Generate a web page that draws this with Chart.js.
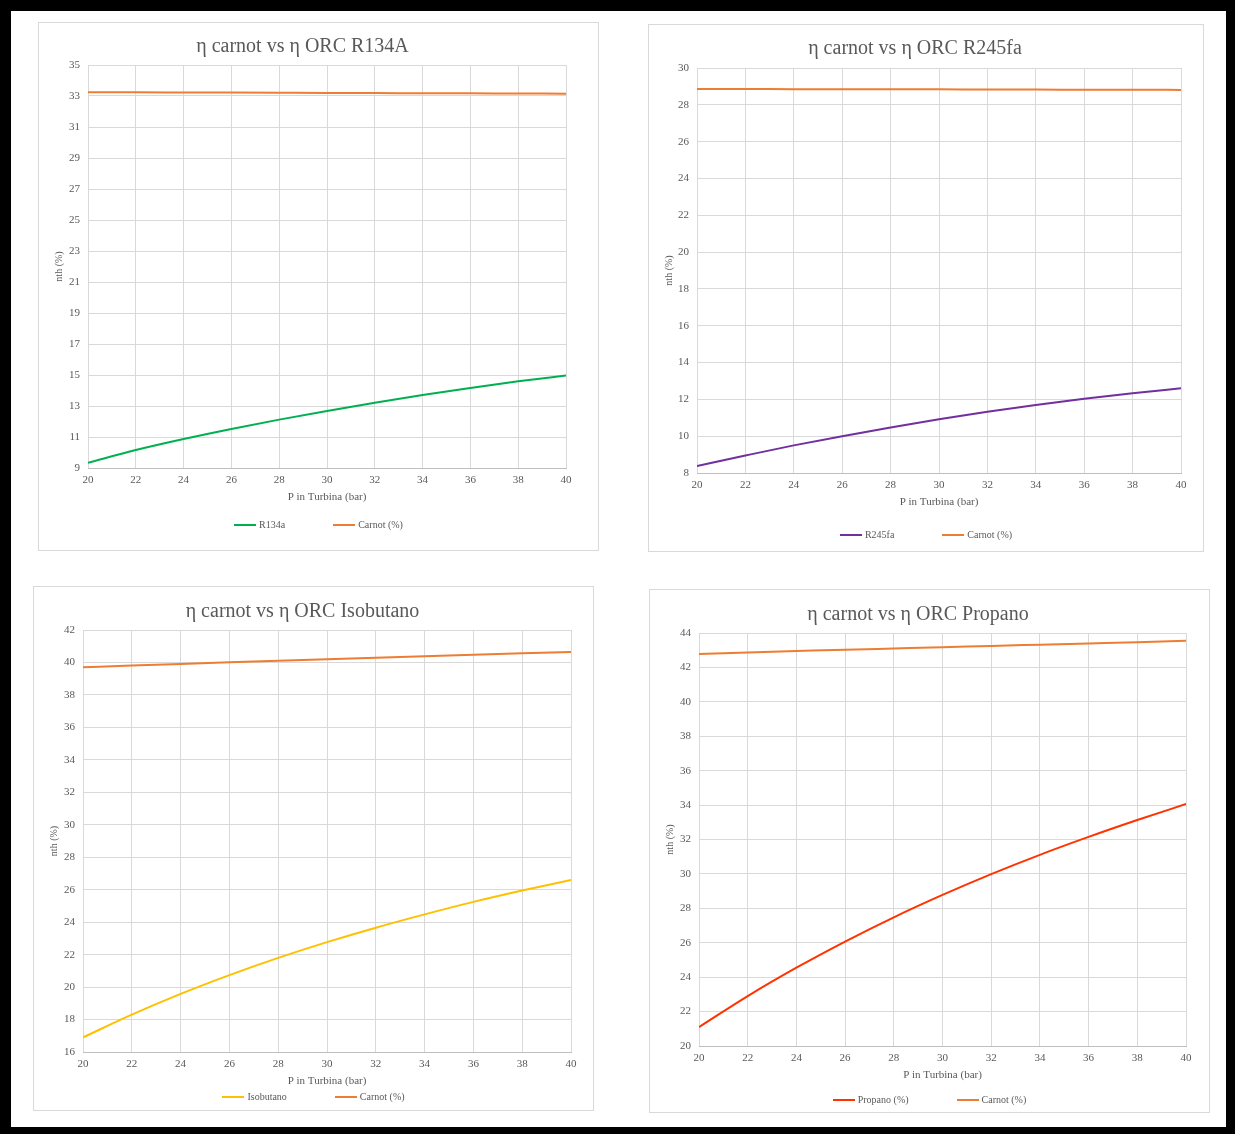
<!DOCTYPE html>
<html>
<head>
<meta charset="utf-8">
<title>η carnot vs η ORC</title>
<script src="https://cdn.jsdelivr.net/npm/chart.js@4.4.1/dist/chart.umd.min.js"></script>
<style>
  body { margin: 0; width: 1235px; height: 1134px; background: #000; position: relative; overflow: hidden; }
  #sheet { position: absolute; left: 11px; top: 11px; width: 1215px; height: 1116px; background: #fff; }
  .box { position: absolute; border: 1px solid #d9d9d9; background: #fff; }
  .box canvas { display: block; }
  .legend { position: absolute; left: 0; right: 0; height: 12px; line-height: 12px; display: flex; justify-content: center; gap: 48px;
            font: 10px "Liberation Serif", serif; color: #595959; white-space: nowrap; }
  .legend .key { display: inline-block; width: 22px; height: 2px; margin-right: 3px; vertical-align: middle; position: relative; top: -1px; }
</style>
</head>
<body>
<div id="sheet"></div>

<div class="box" style="left:38px; top:22px;">
  <canvas id="c1" width="559" height="527"></canvas>
  <div class="legend" style="top:496px;"><span><i class="key" style="background:#00b050"></i>R134a</span><span><i class="key" style="background:#ed7d31"></i>Carnot (%)</span></div>
</div>
<div class="box" style="left:648px; top:24px;">
  <canvas id="c2" width="554" height="526"></canvas>
  <div class="legend" style="top:504px;"><span><i class="key" style="background:#7030a0"></i>R245fa</span><span><i class="key" style="background:#ed7d31"></i>Carnot (%)</span></div>
</div>
<div class="box" style="left:33px; top:586px;">
  <canvas id="c3" width="559" height="523"></canvas>
  <div class="legend" style="top:504px;"><span><i class="key" style="background:#ffc000"></i>Isobutano</span><span><i class="key" style="background:#ed7d31"></i>Carnot (%)</span></div>
</div>
<div class="box" style="left:649px; top:589px;">
  <canvas id="c4" width="559" height="522"></canvas>
  <div class="legend" style="top:504px;"><span><i class="key" style="background:#ff3300"></i>Propano (%)</span><span><i class="key" style="background:#ed7d31"></i>Carnot (%)</span></div>
</div>

<script>
// turbine inlet pressure, bar
const pressure = [20, 22, 24, 26, 28, 30, 32, 34, 36, 38, 40];

// cycle efficiencies, %
const r134a     = [9.34, 10.16, 10.87, 11.52, 12.12, 12.68, 13.21, 13.71, 14.16, 14.59, 14.97];
const r245fa    = [8.38, 8.95, 9.50, 10.00, 10.47, 10.92, 11.33, 11.70, 12.03, 12.33, 12.60];
const isobutano = [16.90, 18.30, 19.58, 20.74, 21.80, 22.77, 23.66, 24.48, 25.25, 25.95, 26.60];
const propano   = [21.10, 22.90, 24.55, 26.07, 27.48, 28.78, 29.99, 31.11, 32.15, 33.13, 34.06];

// carnot efficiency for each fluid, %
const carnotR134a     = [33.25, 33.24, 33.23, 33.22, 33.21, 33.20, 33.19, 33.18, 33.17, 33.16, 33.15];
const carnotR245fa    = [28.86, 28.86, 28.85, 28.85, 28.84, 28.84, 28.83, 28.83, 28.82, 28.82, 28.81];
const carnotIsobutano = [39.70, 39.81, 39.91, 40.01, 40.11, 40.20, 40.29, 40.38, 40.47, 40.56, 40.65];
const carnotPropano   = [42.78, 42.87, 42.95, 43.03, 43.10, 43.17, 43.25, 43.32, 43.39, 43.46, 43.55];

// y axis ranges
const yRange1 = [9, 35];
const yRange2 = [8, 30];
const yRange3 = [16, 42];
const yRange4 = [20, 44];

const grey = '#595959';
const serif = '"Liberation Serif", "Times New Roman", serif';

function points(values) {
  return pressure.map((p, i) => ({ x: p, y: values[i] }));
}

function line(label, values, color) {
  return {
    label: label,
    data: points(values),
    borderColor: color,
    backgroundColor: color,
    borderWidth: 2,
    pointRadius: 0,
    cubicInterpolationMode: 'monotone',
  };
}

function makeChart(id, title, fluid, fluidValues, fluidColor, carnot, yRange, box) {
  new Chart(document.getElementById(id), {
    type: 'line',
    data: {
      datasets: [line(fluid, fluidValues, fluidColor), line('Carnot (%)', carnot, '#ed7d31')],
    },
    options: {
      responsive: false,
      animation: false,
      layout: { padding: { left: 0, top: 0, right: box.right, bottom: box.bottom } },
      plugins: {
        legend: { display: false },
        tooltip: { enabled: false },
        title: {
          display: true,
          text: title,
          color: grey,
          font: { family: serif, size: 20, weight: 'normal' },
          padding: { top: box.titleTop, bottom: box.titleBottom },
        },
      },
      scales: {
        x: {
          type: 'linear',
          min: 20,
          max: 40,
          ticks: { stepSize: 2, padding: 6, color: grey, font: { family: serif, size: 11 } },
          grid: { color: '#d9d9d9', drawTicks: false },
          border: { color: '#bfbfbf' },
          title: {
            display: true,
            text: 'P in Turbina (bar)',
            color: grey,
            font: { family: serif, size: 11 },
            padding: { top: 0, bottom: 2 },
          },
          afterFit: (s) => { s.height = 38; },
        },
        y: {
          min: yRange[0],
          max: yRange[1],
          ticks: { stepSize: 2, padding: 8, color: grey, font: { family: serif, size: 11 } },
          grid: { color: '#d9d9d9', drawTicks: false },
          border: { display: false },
          title: {
            display: true,
            text: 'nth (%)',
            color: grey,
            font: { family: serif, size: 10 },
            padding: { top: 14, bottom: 0 },
          },
          afterFit: (s) => { s.width = box.left; },
        },
      },
    },
  });
}

makeChart('c1', 'η carnot vs η ORC R134A', 'R134a', r134a, '#00b050', carnotR134a, yRange1,
  { left: 49, right: 32, bottom: 44, titleTop: 12, titleBottom: 6 });
makeChart('c2', 'η carnot vs η ORC R245fa', 'R245fa', r245fa, '#7030a0', carnotR245fa, yRange2,
  { left: 48, right: 22, bottom: 40, titleTop: 12, titleBottom: 7 });
makeChart('c3', 'η carnot vs η ORC Isobutano', 'Isobutano', isobutano, '#ffc000', carnotIsobutano, yRange3,
  { left: 49, right: 22, bottom: 20, titleTop: 13, titleBottom: 6 });
makeChart('c4', 'η carnot vs η ORC Propano', 'Propano (%)', propano, '#ff3300', carnotPropano, yRange4,
  { left: 49, right: 23, bottom: 28, titleTop: 13, titleBottom: 6 });
</script>
</body>
</html>
